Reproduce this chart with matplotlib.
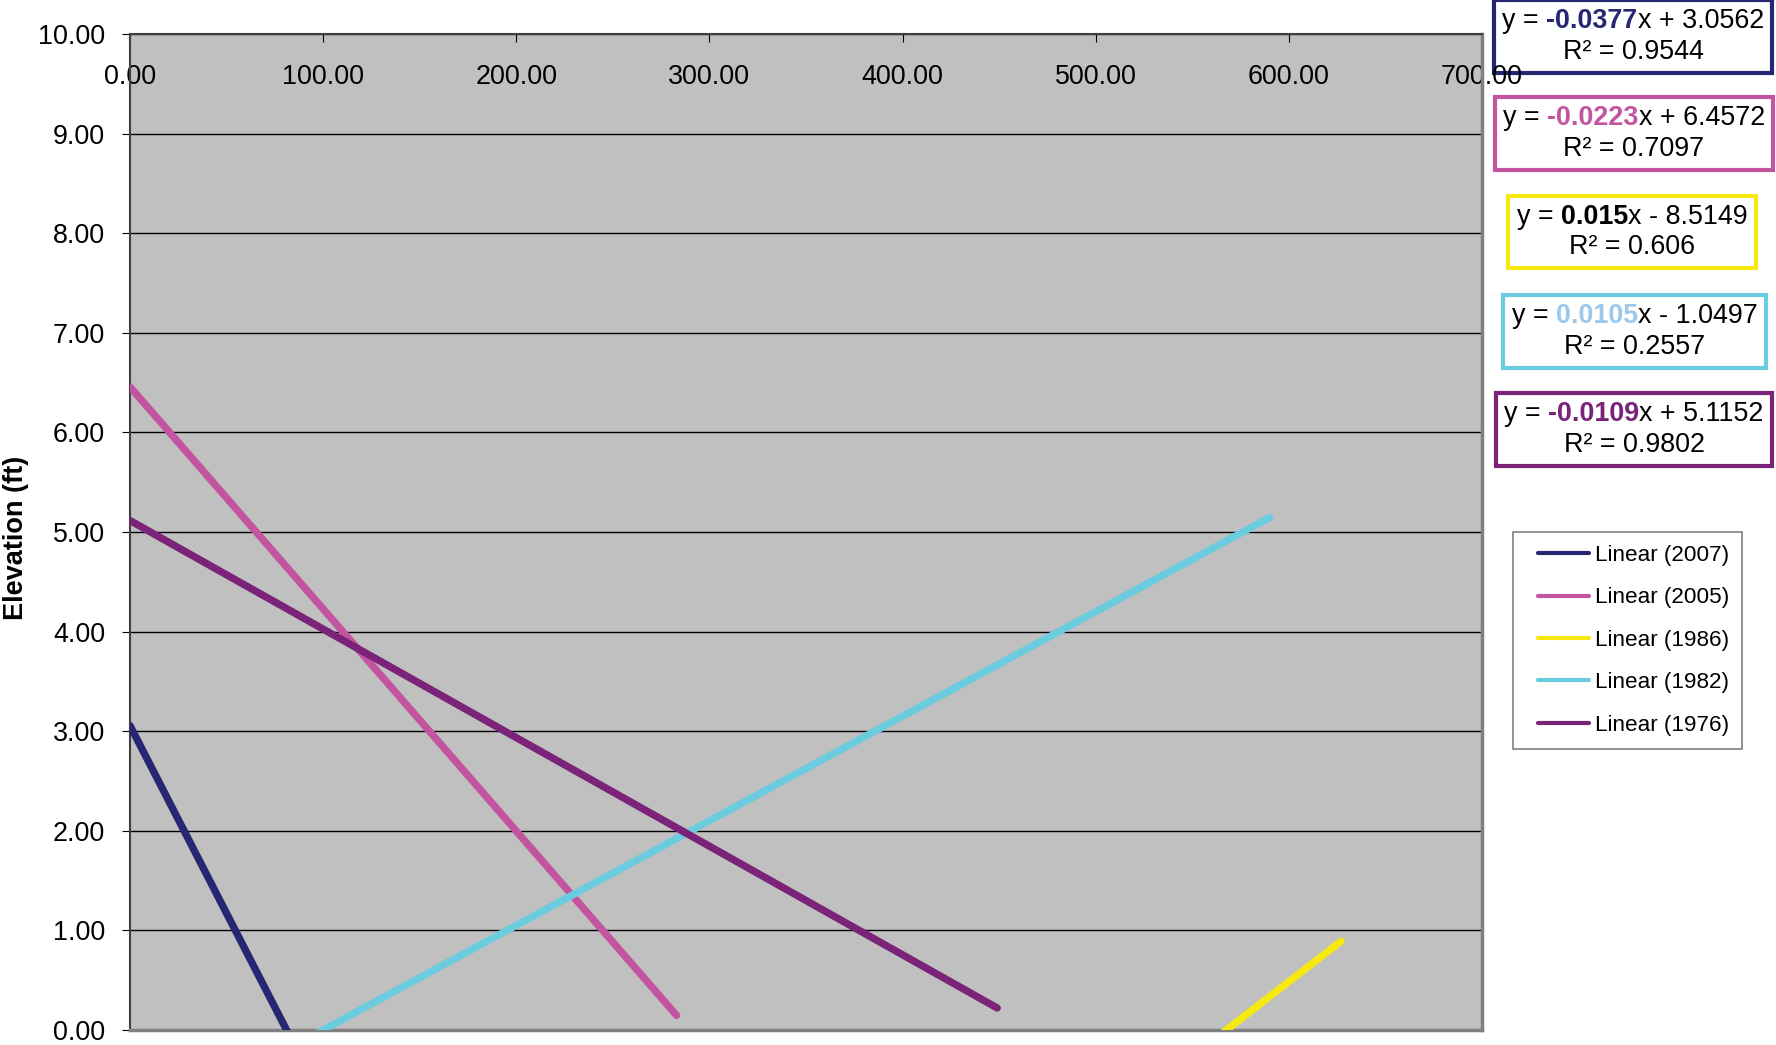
import numpy as np
import matplotlib
matplotlib.use("Agg")
import matplotlib.pyplot as plt
from matplotlib.offsetbox import TextArea, HPacker, VPacker, AnnotationBbox
from matplotlib.legend_handler import HandlerLine2D
from matplotlib.ticker import FormatStrFormatter, MultipleLocator

plt.rcParams['font.family'] = ['Liberation Sans', 'DejaVu Sans']

# ------------------------------------------
# data: linear trendlines per survey year
# ------------------------------------------
years = ["2007", "2005", "1986", "1982", "1976"]
slopes = [-0.0377, -0.0223, 0.015, 0.0105, -0.0109]
intercepts = [3.0562, 6.4572, -8.5149, -1.0497, 5.1152]
r2_values = ["0.9544", "0.7097", "0.606", "0.2557", "0.9802"]
slope_labels = ["-0.0377", "-0.0223", "0.015", "0.0105", "-0.0109"]
intercept_labels = ["+ 3.0562", "+ 6.4572", "- 8.5149", "- 1.0497", "+ 5.1152"]
x_start = [0, 0, 555, 90, 0]
x_end = [86, 283, 627, 590, 449]

line_colors = ["#262673", "#C355A0", "#F5E911", "#6CCCDF", "#7B2379"]
slope_colors = ["#262673", "#C355A0", "#000000", "#9CC8EC", "#7B2379"]

fig = plt.figure(figsize=(17.76, 10.45), dpi=100)
ax = fig.add_axes([130 / 1776, 1 - 1030 / 1045, (1482 - 130) / 1776, (1030 - 34) / 1045])
ax.set_facecolor("#C0C0C0")

for i in range(len(years)):
    xs = np.array([x_start[i], x_end[i]], dtype=float)
    ys = slopes[i] * xs + intercepts[i]
    ax.plot(xs, ys, color=line_colors[i], lw=5.3, solid_capstyle="round",
            label="Linear (%s)" % years[i], zorder=3)

ax.set_xlim(0, 700)
ax.set_ylim(0, 10)
ax.xaxis.set_major_locator(MultipleLocator(100))
ax.yaxis.set_major_locator(MultipleLocator(1))
ax.xaxis.set_major_formatter(FormatStrFormatter("%.2f"))
ax.yaxis.set_major_formatter(FormatStrFormatter("%.2f"))
ax.grid(axis="y", color="black", lw=1.0, zorder=1)
ax.set_axisbelow(True)

ax.tick_params(axis="x", top=True, labeltop=True, bottom=False, labelbottom=False,
               direction="in", length=6, pad=-40, labelsize=19.4)
ax.tick_params(axis="y", direction="out", length=6, pad=12, labelsize=19.4)

for side in ["left", "top"]:
    ax.spines[side].set_color("#404040")
    ax.spines[side].set_linewidth(1.5)
for side in ["right", "bottom"]:
    ax.spines[side].set_color("#808080")
    ax.spines[side].set_linewidth(2.5)

fig.text(16 / 1776, 1 - 538 / 1045, "Elevation (ft)", rotation=90, fontsize=19.5,
         fontweight="bold", ha="center", va="center")

# ------------------------------------------
# equation boxes (drawn below the axes so "700.00" stays on top)
# ------------------------------------------
box_centers = [(1633, 36.5), (1634, 133.5), (1632, 232), (1634.5, 331.5), (1634, 429.5)]
for i in range(len(years)):
    t1 = TextArea("y = ", textprops=dict(fontsize=19.4))
    t2 = TextArea(slope_labels[i], textprops=dict(fontsize=19.4, fontweight="bold",
                                                 color=slope_colors[i]))
    t3 = TextArea("x " + intercept_labels[i], textprops=dict(fontsize=19.4))
    row1 = HPacker(children=[t1, t2, t3], sep=0, pad=0, align="baseline")
    row2 = TextArea("R² = " + r2_values[i], textprops=dict(fontsize=19.4))
    box = VPacker(children=[row1, row2], sep=3, pad=0, align="center")
    cx, cy = box_centers[i]
    ab = AnnotationBbox(box, (cx / 1776, 1 - cy / 1045), xycoords="figure fraction",
                        frameon=True, pad=0.6, box_alignment=(0.5, 0.5),
                        bboxprops=dict(edgecolor=line_colors[i], linewidth=3.0,
                                       facecolor="white"))
    ab.set_zorder(-1)
    fig.add_artist(ab)

# ------------------------------------------
# legend
# ------------------------------------------
handles, labels = ax.get_legend_handles_labels()
leg = fig.legend(handles, labels, loc="upper left",
                 bbox_to_anchor=(1513 / 1776, 1 - 532 / 1045),
                 fontsize=16.2, frameon=True, fancybox=False, edgecolor="#606060",
                 handlelength=2.8, handletextpad=0.27, labelspacing=0.95,
                 borderpad=0.58, borderaxespad=0,
                 handler_map={h: HandlerLine2D(xpad=0.53) for h in handles})
leg.get_frame().set_linewidth(1.2)
for line in leg.get_lines():
    line.set_linewidth(3)

fig.savefig("out.png", dpi=100, facecolor="white")
